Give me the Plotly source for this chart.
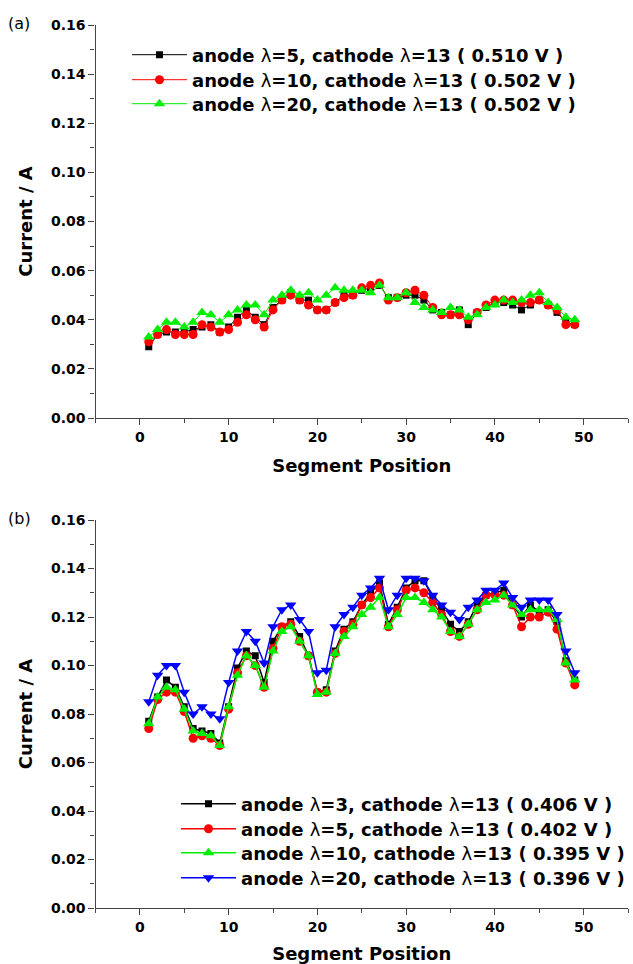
import plotly.graph_objects as go

# ---------------- data ----------------
segments = list(range(1, 50))

# panel (a)
a_names = [
    "<b>anode </b>λ<b>=5, cathode </b>λ<b>=13 ( 0.510 V )</b>",
    "<b>anode </b>λ<b>=10, cathode </b>λ<b>=13 ( 0.502 V )</b>",
    "<b>anode </b>λ<b>=20, cathode </b>λ<b>=13 ( 0.502 V )</b>",
]
a_lam5 = [0.029, 0.034, 0.035, 0.035, 0.035, 0.036, 0.037, 0.038, 0.035, 0.037,
          0.041, 0.044, 0.041, 0.038, 0.045, 0.048, 0.051, 0.048, 0.048, 0.044,
          0.044, 0.047, 0.050, 0.050, 0.052, 0.053, 0.054, 0.049, 0.049, 0.050,
          0.050, 0.048, 0.044, 0.043, 0.042, 0.044, 0.038, 0.043, 0.045, 0.047,
          0.047, 0.046, 0.044, 0.046, 0.048, 0.046, 0.043, 0.039, 0.038]
a_lam10 = [0.031, 0.034, 0.036, 0.034, 0.034, 0.034, 0.038, 0.037, 0.035, 0.036,
           0.039, 0.042, 0.040, 0.037, 0.044, 0.048, 0.050, 0.048, 0.046, 0.044,
           0.044, 0.047, 0.049, 0.050, 0.053, 0.054, 0.055, 0.048, 0.049, 0.051,
           0.052, 0.050, 0.045, 0.042, 0.042, 0.042, 0.040, 0.043, 0.046, 0.048,
           0.048, 0.048, 0.047, 0.047, 0.048, 0.046, 0.044, 0.038, 0.038]
a_lam20 = [0.033, 0.036, 0.039, 0.039, 0.037, 0.039, 0.043, 0.042, 0.039, 0.042,
           0.044, 0.046, 0.046, 0.042, 0.048, 0.050, 0.052, 0.050, 0.051, 0.048,
           0.050, 0.053, 0.052, 0.052, 0.052, 0.051, 0.054, 0.049, 0.049, 0.051,
           0.047, 0.045, 0.044, 0.043, 0.045, 0.044, 0.041, 0.042, 0.045, 0.046,
           0.048, 0.047, 0.048, 0.050, 0.051, 0.047, 0.045, 0.041, 0.040]

# panel (b)
b_names = [
    "<b>anode </b>λ<b>=3, cathode </b>λ<b>=13 ( 0.406 V )</b>",
    "<b>anode </b>λ<b>=5, cathode </b>λ<b>=13 ( 0.402 V )</b>",
    "<b>anode </b>λ<b>=10, cathode </b>λ<b>=13 ( 0.395 V )</b>",
    "<b>anode </b>λ<b>=20, cathode </b>λ<b>=13 ( 0.396 V )</b>",
]
b_lam3 = [0.077, 0.087, 0.094, 0.091, 0.083, 0.074, 0.073, 0.072, 0.068, 0.083,
          0.099, 0.106, 0.104, 0.093, 0.110, 0.116, 0.118, 0.112, 0.104, 0.089,
          0.090, 0.106, 0.115, 0.118, 0.125, 0.130, 0.134, 0.117, 0.124, 0.132,
          0.135, 0.135, 0.128, 0.123, 0.117, 0.114, 0.118, 0.125, 0.129, 0.130,
          0.131, 0.125, 0.120, 0.125, 0.122, 0.123, 0.118, 0.102, 0.094]
b_lam5 = [0.074, 0.086, 0.089, 0.089, 0.081, 0.070, 0.071, 0.070, 0.067, 0.082,
          0.097, 0.104, 0.100, 0.091, 0.107, 0.116, 0.117, 0.110, 0.104, 0.089,
          0.089, 0.105, 0.114, 0.117, 0.125, 0.128, 0.132, 0.116, 0.123, 0.131,
          0.132, 0.130, 0.126, 0.121, 0.114, 0.112, 0.117, 0.123, 0.129, 0.129,
          0.129, 0.125, 0.116, 0.120, 0.120, 0.122, 0.115, 0.101, 0.092]
b_lam10 = [0.076, 0.087, 0.091, 0.090, 0.082, 0.073, 0.072, 0.071, 0.067, 0.083,
           0.096, 0.104, 0.100, 0.091, 0.106, 0.114, 0.116, 0.110, 0.104, 0.088,
           0.089, 0.105, 0.112, 0.116, 0.121, 0.124, 0.128, 0.116, 0.121, 0.128,
           0.128, 0.126, 0.123, 0.120, 0.114, 0.112, 0.117, 0.123, 0.126, 0.127,
           0.129, 0.125, 0.121, 0.123, 0.123, 0.123, 0.119, 0.101, 0.094]
b_lam20 = [0.085, 0.096, 0.100, 0.100, 0.089, 0.080, 0.083, 0.080, 0.078, 0.093,
           0.106, 0.114, 0.110, 0.101, 0.116, 0.123, 0.125, 0.119, 0.114, 0.097,
           0.098, 0.116, 0.121, 0.124, 0.129, 0.132, 0.136, 0.123, 0.129, 0.136,
           0.136, 0.135, 0.129, 0.125, 0.122, 0.119, 0.124, 0.127, 0.131, 0.131,
           0.134, 0.128, 0.124, 0.127, 0.127, 0.127, 0.121, 0.106, 0.097]

x_ticks = [0, 10, 20, 30, 40, 50]
y_ticks = [0.00, 0.02, 0.04, 0.06, 0.08, 0.10, 0.12, 0.14, 0.16]

# ---------------- styles ----------------
FONT = "DejaVu Sans, Verdana, sans-serif"
styles = {
    "black": dict(color="#000000", symbol="square", size=7),
    "red": dict(color="#ff0000", symbol="circle", size=9),
    "green": dict(color="#00ee00", symbol="triangle-up", size=10),
    "blue": dict(color="#0000ff", symbol="triangle-down", size=10),
}

W, H = 633, 964
fig = go.Figure()

legend_defs = {}

def add(xs, ys, name, st, xa, ya, legend, lw, lx, ly):
    fig.add_trace(go.Scatter(
        x=xs, y=ys, name=name, mode="lines+markers", showlegend=True,
        line=dict(color=st["color"], width=lw),
        marker=dict(color=st["color"], symbol=st["symbol"], size=st["size"],
                    line=dict(width=0)),
        xaxis=xa, yaxis=ya, legend=legend,
    ))
    legend_defs[legend] = dict(
        x=lx / W, y=1 - ly / H, xanchor="left", yanchor="middle",
        font=dict(family=FONT, size=18, color="#000"),
        bgcolor="rgba(0,0,0,0)", itemwidth=55, borderwidth=0, visible=True)

a_rows = [55, 80, 104]
for i, (ys, nm, key) in enumerate(zip([a_lam5, a_lam10, a_lam20], a_names,
                                      ["black", "red", "green"])):
    lg = "legend" if i == 0 else "legend%d" % (i + 1)
    add(segments, ys, nm, styles[key], "x", "y", lg, 1.0, 127, a_rows[i])

b_rows = [804, 829, 853, 878]
for i, (ys, nm, key) in enumerate(zip([b_lam3, b_lam5, b_lam10, b_lam20], b_names,
                                      ["black", "red", "green", "blue"])):
    lg = "legend%d" % (i + 4)
    add(segments, ys, nm, styles[key], "x2", "y2", lg, 1.5, 176, b_rows[i])

AX = "#444444"
tickfont = dict(family=FONT, size=14, color="#000", weight="bold")
titlefont = dict(family=FONT, size=18, color="#000", weight="bold")

def xaxis(domain, anchor):
    return dict(domain=domain, anchor=anchor, range=[-5, 55],
                tickmode="array", tickvals=x_ticks, ticktext=[str(v) for v in x_ticks],
                ticks="outside", ticklen=6, tickwidth=1.2, tickcolor=AX,
                minor=dict(dtick=5, tick0=0, ticks="outside", ticklen=4, tickwidth=1.2, tickcolor=AX),
                showline=True, linecolor=AX, linewidth=1.3, showgrid=False, zeroline=False,
                tickfont=tickfont, automargin=False,
                title=dict(text="Segment Position", font=titlefont, standoff=15))

def yaxis(domain, anchor):
    return dict(domain=domain, anchor=anchor, range=[0, 0.16],
                tickmode="array", tickvals=y_ticks, ticktext=["%.2f" % v for v in y_ticks],
                ticks="outside", ticklen=6, tickwidth=1.2, tickcolor=AX,
                minor=dict(dtick=0.01, tick0=0, ticks="outside", ticklen=4, tickwidth=1.2, tickcolor=AX),
                showline=True, linecolor=AX, linewidth=1.3, showgrid=False, zeroline=False,
                tickfont=tickfont, automargin=False,
                title=dict(text="Current / A", font=titlefont, standoff=13))

xdom = [95.5 / W, 628 / W]
top_dom = [1 - 418 / H, 1 - 25 / H]
bot_dom = [1 - 908 / H, 1 - 520 / H]

fig.update_layout(
    width=W, height=H, autosize=False, showlegend=True,
    margin=dict(l=0, r=0, t=0, b=0, autoexpand=False),
    paper_bgcolor="white", plot_bgcolor="white",
    xaxis=xaxis(xdom, "y"), yaxis=yaxis(top_dom, "x"),
    xaxis2=xaxis(xdom, "y2"), yaxis2=yaxis(bot_dom, "x2"),
    annotations=[
        dict(text="(a)", x=6 / W, y=1 - 23 / H, xref="paper", yref="paper",
             xanchor="left", yanchor="middle", showarrow=False,
             font=dict(family=FONT, size=16, color="#000")),
        dict(text="(b)", x=6 / W, y=1 - 518 / H, xref="paper", yref="paper",
             xanchor="left", yanchor="middle", showarrow=False,
             font=dict(family=FONT, size=16, color="#000")),
    ],
)
fig.update_layout(**legend_defs)

fig.write_html("out.html")
